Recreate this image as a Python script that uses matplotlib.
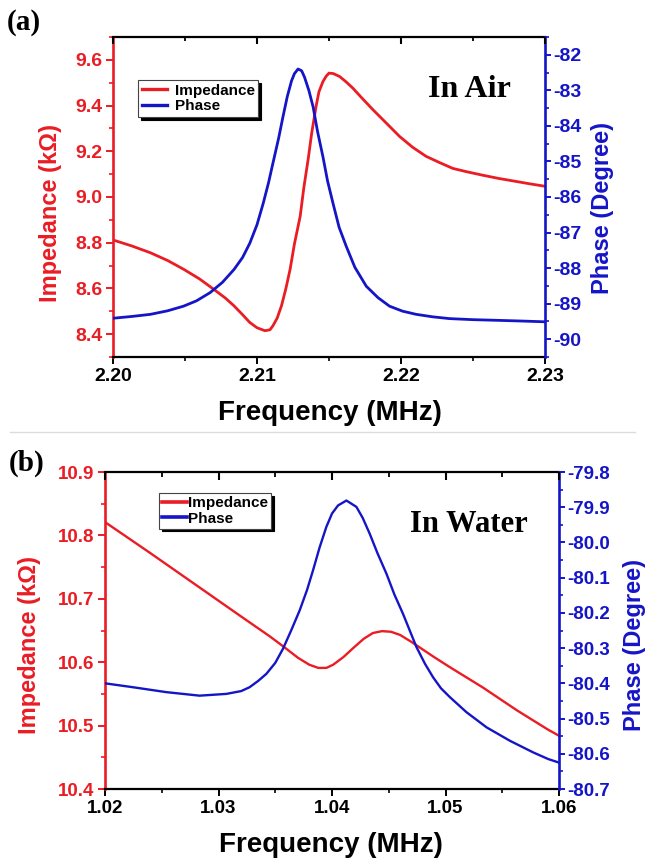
import matplotlib
matplotlib.use("Agg")
import matplotlib.pyplot as plt
from matplotlib.lines import Line2D
from matplotlib.ticker import MultipleLocator, FormatStrFormatter

plt.rcParams['axes.unicode_minus'] = False
plt.rcParams['font.family'] = ['Liberation Sans', 'DejaVu Sans']
plt.rcParams['font.weight'] = 'bold'

# ---------------- data: panel (a) In Air ----------------
air_imp_freq = [2.2000, 2.2013, 2.2026, 2.2038, 2.2049, 2.2060, 2.2070, 2.2078, 2.2084,
                2.2090, 2.2095, 2.2100, 2.21055, 2.2109, 2.2111, 2.2114, 2.2117, 2.2120,
                2.2123, 2.2126, 2.2130, 2.21325, 2.21355, 2.2138, 2.2141, 2.2143, 2.21458,
                2.2148, 2.2150, 2.2153, 2.21574, 2.2162, 2.21666, 2.2173, 2.21805, 2.2190,
                2.2199, 2.2208, 2.22174, 2.2227, 2.2236, 2.2246, 2.2257, 2.2268, 2.2280,
                2.2290, 2.2300]
air_imp = [8.812, 8.786, 8.756, 8.722, 8.684, 8.642, 8.596, 8.558, 8.524,
           8.485, 8.451, 8.428, 8.415, 8.419, 8.436, 8.470, 8.524, 8.598,
           8.684, 8.795, 8.916, 9.040, 9.164, 9.280, 9.396, 9.460, 9.505,
           9.528, 9.542, 9.540, 9.527, 9.503, 9.476, 9.432, 9.382, 9.322,
           9.265, 9.218, 9.178, 9.150, 9.125, 9.110, 9.095, 9.081, 9.068,
           9.057, 9.047]

air_ph_freq = [2.2000, 2.2013, 2.2026, 2.2038, 2.2049, 2.2058, 2.20674, 2.2076, 2.2084,
               2.2090, 2.2095, 2.2100, 2.21043, 2.2108, 2.2111, 2.2115, 2.2118, 2.2121,
               2.2124, 2.2126, 2.21285, 2.2131, 2.2133, 2.2136, 2.2139, 2.2142, 2.21458,
               2.2149, 2.21528, 2.2157, 2.2162, 2.2168, 2.21759, 2.2184, 2.2192, 2.2201,
               2.22105, 2.2222, 2.22336, 2.2250, 2.22682, 2.2285, 2.2300]
air_ph = [-89.41, -89.36, -89.30, -89.20, -89.07, -88.92, -88.69, -88.40, -88.04,
          -87.70, -87.30, -86.78, -86.18, -85.60, -85.06, -84.35, -83.75, -83.18,
          -82.73, -82.53, -82.40, -82.45, -82.63, -83.00, -83.47, -84.15, -84.87,
          -85.55, -86.18, -86.85, -87.39, -87.98, -88.51, -88.83, -89.07, -89.21,
          -89.30, -89.37, -89.42, -89.45, -89.47, -89.49, -89.51]

# ---------------- data: panel (b) In Water ----------------
wat_imp_freq = [1.0200, 1.0240, 1.0280, 1.0320, 1.0345, 1.0357, 1.0370, 1.0380, 1.0388,
                1.0395, 1.0401, 1.0410, 1.04185, 1.0428, 1.0436, 1.0444, 1.0452, 1.0460,
                1.0470, 1.0480, 1.0490, 1.0504, 1.0533, 1.0563, 1.0590, 1.0600]
wat_imp = [10.821, 10.772, 10.722, 10.672, 10.641, 10.625, 10.607, 10.596, 10.591,
           10.591, 10.596, 10.608, 10.622, 10.637, 10.646, 10.649, 10.648, 10.643,
           10.632, 10.620, 10.608, 10.592, 10.560, 10.524, 10.494, 10.484]

wat_ph_freq = [1.0200, 1.02245, 1.0254, 1.02833, 1.03069, 1.0320, 1.03274, 1.0335, 1.03422,
               1.0350, 1.03568, 1.0364, 1.03715, 1.0378, 1.03833, 1.0389, 1.0395, 1.0400,
               1.04053, 1.04127, 1.04215, 1.0427, 1.04332, 1.0440, 1.0448, 1.0455, 1.04626,
               1.04744, 1.0482, 1.04891, 1.0496, 1.05038, 1.05185, 1.05362, 1.05567, 1.05772,
               1.05905, 1.0600]
wat_ph = [-80.400, -80.411, -80.425, -80.435, -80.430, -80.422, -80.411, -80.393, -80.373,
          -80.342, -80.302, -80.250, -80.193, -80.135, -80.079, -80.015, -79.956, -79.918,
          -79.895, -79.881, -79.899, -79.930, -79.975, -80.030, -80.089, -80.148, -80.203,
          -80.297, -80.345, -80.383, -80.414, -80.439, -80.482, -80.525, -80.563, -80.596,
          -80.615, -80.625]

RED = '#ea1c24'
BLUE = '#1515c8'
SERIF = ['Liberation Serif', 'DejaVu Serif']

W, H = 645, 863
fig = plt.figure(figsize=(W / 100, H / 100), dpi=100)


def px_rect(l, t, r, b):
    return [l / W, 1 - b / H, (r - l) / W, (b - t) / H]


def make_panel(rect, fx, fy1, fy2, xlim, xmaj, xmin_, ylim1, ymaj1, ymin1, fmt1,
               ylim2, ymaj2, ymin2, fmt2, xfmt, lw, fs):
    ax = fig.add_axes(rect)
    ax2 = ax.twinx()
    l1, = ax.plot(fx[0], fy1, color=RED, lw=lw, solid_joinstyle='round')
    l2, = ax2.plot(fx[1], fy2, color=BLUE, lw=lw, solid_joinstyle='round')
    ax.set_xlim(*xlim)
    ax.set_ylim(*ylim1)
    ax2.set_ylim(*ylim2)
    ax.xaxis.set_major_locator(MultipleLocator(xmaj))
    ax.xaxis.set_minor_locator(MultipleLocator(xmin_))
    ax.xaxis.set_major_formatter(FormatStrFormatter(xfmt))
    ax.yaxis.set_major_locator(MultipleLocator(ymaj1))
    ax.yaxis.set_minor_locator(MultipleLocator(ymin1))
    ax.yaxis.set_major_formatter(FormatStrFormatter(fmt1))
    ax2.yaxis.set_major_locator(MultipleLocator(ymaj2))
    ax2.yaxis.set_minor_locator(MultipleLocator(ymin2))
    ax2.yaxis.set_major_formatter(FormatStrFormatter(fmt2))

    for sp in ['top', 'bottom']:
        ax.spines[sp].set_linewidth(1.6)
        ax.spines[sp].set_color('black')
        ax2.spines[sp].set_visible(False)
    ax.spines['left'].set_color(RED)
    ax.spines['left'].set_linewidth(1.9)
    ax.spines['right'].set_visible(False)
    ax2.spines['left'].set_visible(False)
    ax2.spines['right'].set_color(BLUE)
    ax2.spines['right'].set_linewidth(1.9)

    ax.tick_params(axis='x', which='major', direction='out', length=5, width=1.4,
                   labelsize=fs, pad=3, colors='black', top=False)
    ax.tick_params(axis='x', which='minor', direction='out', length=3, width=1.2, top=False)
    ax.tick_params(axis='y', which='major', direction='out', length=5, width=1.4,
                   labelsize=fs, pad=2.5, colors=RED)
    ax.tick_params(axis='y', which='minor', direction='out', length=3, width=1.2, colors=RED)
    ax2.tick_params(axis='y', which='major', direction='out', length=4.5, width=1.4,
                    labelsize=fs, pad=1.5, colors=BLUE)
    ax2.tick_params(axis='y', which='minor', direction='out', length=3, width=1.2, colors=BLUE)

    for t in ax.get_xticklabels() + ax.get_yticklabels() + ax2.get_yticklabels():
        t.set_fontweight('bold')

    # inward-pointing ticks along the top frame, at the axis' own tick locations
    h_px = rect[3] * H
    lo, hi = xlim
    maj = [v for v in ax.xaxis.get_majorticklocs() if lo - 1e-9 <= v <= hi + 1e-9]
    mnr = [v for v in ax.xaxis.get_minorticklocs() if lo - 1e-9 <= v <= hi + 1e-9]
    ax2.vlines(maj, 1 - 7.5 / h_px, 1, transform=ax2.get_xaxis_transform(),
               colors='black', lw=1.5, clip_on=False, zorder=6)
    ax2.vlines(mnr, 1 - 4.5 / h_px, 1, transform=ax2.get_xaxis_transform(),
               colors='black', lw=1.3, clip_on=False, zorder=6)
    return ax, ax2, l1, l2


# ---------------- panel (a) ----------------
axA, axA2, a1, a2 = make_panel(
    px_rect(113, 37, 545, 357), (air_imp_freq, air_ph_freq), air_imp, air_ph,
    (2.20, 2.23), 0.01, 0.005, (8.3, 9.7), 0.2, 0.1, '%.1f',
    (-90.5, -81.5), 1, 0.5, '%d', '%.2f', 2.0, 14)

legA = axA2.legend([a1, a2], ['Impedance', 'Phase'], loc='upper left',
                   bbox_to_anchor=(138 / W, 1 - 80 / H), bbox_transform=fig.transFigure,
                   borderaxespad=0, frameon=True, fancybox=False,
                   shadow={'color': 'black', 'alpha': 1.0},
                   prop={'weight': 'bold', 'size': 11}, handlelength=1.65,
                   handletextpad=0.5, labelspacing=0.1, borderpad=0.25)
for h in legA.get_lines():
    h.set_linewidth(2.4)
legA.get_frame().set_edgecolor('#444444')
legA.get_frame().set_linewidth(0.8)
legA.set_zorder(10)

# ---------------- panel (b) ----------------
axB, axB2, b1, b2 = make_panel(
    px_rect(105, 472, 559, 789), (wat_imp_freq, wat_ph_freq), wat_imp, wat_ph,
    (1.02, 1.06), 0.01, 0.005, (10.4, 10.9), 0.1, 0.05, '%.1f',
    (-80.7, -79.8), 0.1, 0.05, '%.1f', '%.2f', 1.7, 13.5)

legB = axB2.legend([b1, b2], ['Impedance', 'Phase'], loc='upper left',
                   bbox_to_anchor=(159 / W, 1 - 493 / H), bbox_transform=fig.transFigure,
                   borderaxespad=0, frameon=True, fancybox=False,
                   shadow={'color': 'black', 'alpha': 1.0},
                   prop={'weight': 'bold', 'size': 11}, handlelength=1.6,
                   handletextpad=0.1, labelspacing=0.1, borderpad=0.2)
for h in legB.get_lines():
    h.set_linewidth(2.6)
legB.get_frame().set_edgecolor('#444444')
legB.get_frame().set_linewidth(0.8)
legB.set_zorder(10)

# ---------------- texts ----------------
fig.text(469 / W, 1 - 97 / H, 'In Air', family=SERIF, weight='bold', size=23,
         ha='center', va='baseline')
fig.text(469 / W, 1 - 532 / H, 'In Water', family=SERIF, weight='bold', size=22,
         ha='center', va='baseline')
fig.text(24 / W, 1 - 23 / H, '(a)', family=SERIF, weight='bold', size=21,
         ha='center', va='center')
fig.text(27 / W, 1 - 463 / H, '(b)', family=SERIF, weight='bold', size=21,
         ha='center', va='center')

fig.text(51 / W, 1 - 213 / H, 'Impedance (k\u03a9)', color=RED, weight='bold', size=17,
         rotation=90, ha='center', va='center')
fig.text(603 / W, 1 - 208 / H, 'Phase (Degree)', color=BLUE, weight='bold', size=17,
         rotation=90, ha='center', va='center')
fig.text(330 / W, 1 - 413 / H, 'Frequency (MHz)', color='black', weight='bold', size=20,
         ha='center', va='center')

fig.text(30 / W, 1 - 645 / H, 'Impedance (k\u03a9)', color=RED, weight='bold', size=17,
         rotation=90, ha='center', va='center')
fig.text(635 / W, 1 - 645 / H, 'Phase (Degree)', color=BLUE, weight='bold', size=17,
         rotation=90, ha='center', va='center')
fig.text(331 / W, 1 - 845 / H, 'Frequency (MHz)', color='black', weight='bold', size=20,
         ha='center', va='center')

fig.add_artist(Line2D([0.015, 0.985], [1 - 432 / H] * 2, color='#dcdcdc', lw=1.0))

fig.savefig('out.png', dpi=100)
